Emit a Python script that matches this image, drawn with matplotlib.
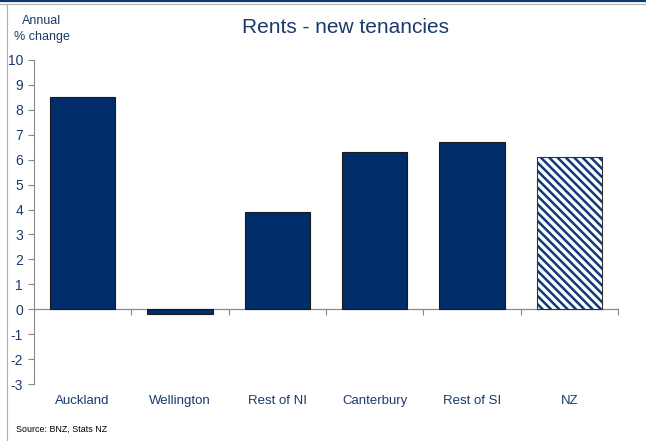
import matplotlib.pyplot as plt
from matplotlib.lines import Line2D

plt.rcParams['font.family'] = ['Liberation Sans', 'DejaVu Sans']
plt.rcParams['hatch.color'] = '#0f3a78'
plt.rcParams['hatch.linewidth'] = 1.8

# data
regions = ["Auckland", "Wellington", "Rest of NI", "Canterbury", "Rest of SI", "NZ"]
rent_change = [8.5, -0.2, 3.9, 6.3, 6.7, 6.1]
y_ticks = list(range(-3, 11))

navy = "#002D6A"
text_col = "#1B3A6B"

fig = plt.figure(figsize=(6.46, 4.41), dpi=100)
ax = fig.add_axes([34 / 646, 1 - 384 / 441, (618 - 34) / 646, (384 - 60) / 441])

x = list(range(len(regions)))
for i, (name, val) in enumerate(zip(regions, rent_change)):
    if name == "NZ":
        ax.bar(i, val, width=0.67, facecolor="white", edgecolor="#0f3a78",
               hatch="\\\\\\\\", linewidth=0, zorder=2)
        ax.bar(i, val, width=0.67, facecolor="none", edgecolor="#333333",
               linewidth=0.8, zorder=3)
    else:
        ax.bar(i, val, width=0.67, color=navy, edgecolor="#1a1a1a",
               linewidth=0.8, zorder=2)

ax.set_xlim(-0.5, len(regions) - 0.5)
ax.set_ylim(-3, 10)
ax.set_yticks(y_ticks)
ax.set_yticklabels([str(t) for t in y_ticks], fontsize=10, color=text_col)
ax.tick_params(axis="y", direction="out", length=4, width=0.8, color="#888888", pad=4)

for s in ["top", "right", "bottom"]:
    ax.spines[s].set_visible(False)
ax.spines["left"].set_color("#888888")
ax.spines["left"].set_linewidth(0.8)

# category labels along the bottom
ax.set_xticks(x)
ax.set_xticklabels(regions, fontsize=9.5, color=text_col)
ax.tick_params(axis="x", length=0, pad=8)

# zero line with ticks between categories
zero_ax = ax.secondary_xaxis(3 / 13)
zero_ax.set_xticks([i + 0.5 for i in x])
zero_ax.set_xticklabels([])
zero_ax.tick_params(axis="x", direction="out", length=4, width=0.8, color="#888888")
zero_ax.spines["bottom"].set_color("#888888")
zero_ax.spines["bottom"].set_linewidth(0.8)
ax.axhline(0, color="#888888", linewidth=0.8, zorder=1)

fig.text(346 / 646, 1 - 33 / 441, "Rents - new tenancies", ha="center", va="baseline",
         fontsize=15, color=text_col)
fig.text(42 / 646, 1 - 29 / 441, "Annual\n% change", ha="center", va="center",
         fontsize=9, color=text_col, linespacing=1.35)
fig.text(16 / 646, 1 - 429 / 441, "Source: BNZ, Stats NZ", ha="left", va="center",
         fontsize=6.4, color="black")

# page frame lines
fig.add_artist(Line2D([0, 1], [1 - 1 / 441, 1 - 1 / 441], transform=fig.transFigure,
                      color="#0f3a78", linewidth=1.6))
fig.add_artist(Line2D([0, 1], [1 - 4 / 441, 1 - 4 / 441], transform=fig.transFigure,
                      color="#b0b0b0", linewidth=0.8))
fig.add_artist(Line2D([7 / 646, 7 / 646], [0, 1 - 4 / 441], transform=fig.transFigure,
                      color="#b0b0b0", linewidth=0.8))

fig.savefig("out.png", dpi=100)
